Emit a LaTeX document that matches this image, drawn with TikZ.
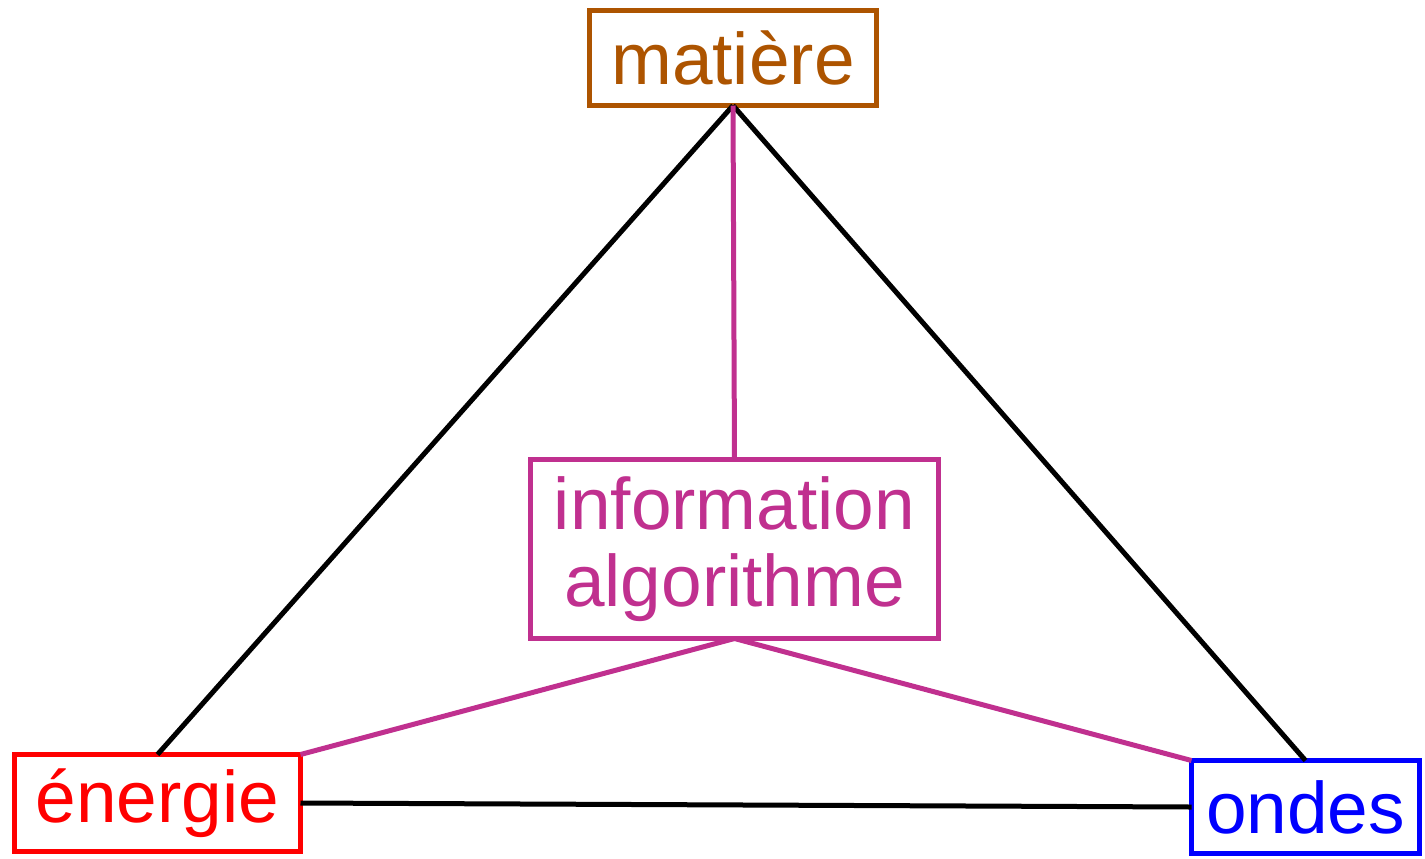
\documentclass[tikz,border=0pt]{standalone}
\usepackage{fontspec}
\setmainfont{Liberation Sans}
\definecolor{brun}{HTML}{AD5400}
\definecolor{magenta2}{HTML}{C0308F}
\definecolor{rouge}{HTML}{FF0000}
\definecolor{bleu}{HTML}{0000FF}
\begin{document}
\begin{tikzpicture}[x=0.5pt, y=-0.5pt,
  every node/.style={font=\fontsize{36.5}{38.5}\selectfont, align=center},
  boite/.style={draw=#1, text=#1, line width=2.75pt, inner sep=0pt, outer sep=0pt},
  lien/.style={line width=2.5pt, black},
  lieninfo/.style={line width=2.5pt, magenta2}]
  \useasboundingbox (0,0) rectangle (1425,858);

  \node[boite=brun, minimum width=143.5pt, minimum height=47.5pt] (mat) at (733,58) {matière};
  \node[boite=magenta2, minimum width=204pt, minimum height=89.5pt] (info) at (734.5,549) {information\\algorithme};
  \node[boite=rouge, minimum width=143pt, minimum height=48.5pt] (ene) at (157.5,803) {énergie};
  \node[boite=bleu, minimum width=114pt, minimum height=46.5pt] (ond) at (1305.5,807) {ondes};

  \draw[lien] (mat.south) -- (ene.north);
  \draw[lien] (mat.south) -- (ond.north);
  \draw[lien] (ene.east) -- (ond.west);

  \draw[lieninfo] (mat.south) -- (info.north);
  \draw[lieninfo] (info.south) -- (ene.north east);
  \draw[lieninfo] (info.south) -- (ond.north west);
\end{tikzpicture}
\end{document}
